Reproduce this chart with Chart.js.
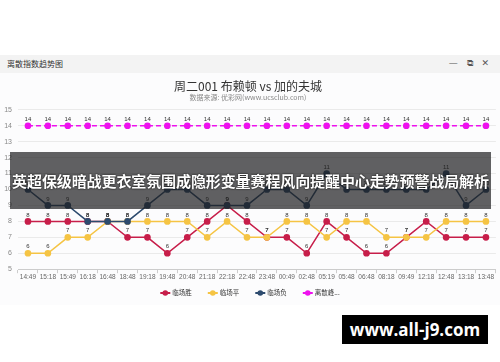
<!DOCTYPE html>
<html><head><meta charset="utf-8">
<script src="https://cdn.jsdelivr.net/npm/chart.js@4/dist/chart.umd.min.js"></script>
<style>
html,body{margin:0;padding:0;background:#fff;width:500px;height:362px;overflow:hidden;font-family:"Noto Sans CJK SC","Noto Sans",sans-serif;}
#hdr{position:absolute;left:0;top:55px;width:500px;height:18px;background:#f3f3f3;}
#hdr .t{position:absolute;left:7px;top:3px;font-size:8px;color:#333;line-height:12px;}
#hdr .ic{position:absolute;right:8px;top:2px;font-size:9px;color:#555;line-height:13px;letter-spacing:3px;font-family:"DejaVu Sans",sans-serif;}
#panel{position:absolute;left:0;top:73px;width:500px;height:232px;background:#fcfcfd;}
#c{position:absolute;left:0;top:73px;}
#ov{position:absolute;left:10px;top:152px;width:481px;height:57px;background:rgba(30,30,32,0.7);color:#fff;font-weight:bold;font-size:15px;line-height:57px;text-align:center;white-space:nowrap;letter-spacing:-0.1px;text-shadow:0 0 2px #000;}
#wm{position:absolute;left:342px;top:315px;width:146px;height:29px;background:#000;color:#fff;font-weight:bold;font-size:17px;line-height:29px;text-align:center;font-family:"Open Sans","Noto Sans",sans-serif;}
</style></head>
<body>
<div id="hdr"><span class="t">离散指数趋势图</span><span class="ic">— ⧉ ✕</span></div>
<div id="panel"></div>
<canvas id="c" width="500" height="232"></canvas>
<div id="ov">英超保级暗战更衣室氛围成隐形变量赛程风向提醒中心走势预警战局解析</div>
<div id="wm">www.all-j9.com</div>
<script>
const categories = ["14:49","15:18","15:49","16:18","16:48","18:48","19:18","19:48","20:48","21:18","22:18","22:48","23:48","00:49","02:48","05:19","05:48","06:48","08:18","09:49","12:18","12:48","13:18","13:48"];
const seriesNames = ["临场胜","临场平","临场负","离散峰..."];
const winValues  = [8,8,8,8,8,7,7,6,7,8,9,8,7,7,6,8,7,6,6,7,8,7,7,7];
const drawValues = [6,6,7,7,8,8,8,8,8,7,8,7,7,8,8,7,8,8,7,7,7,8,8,8];
const loseValues = [10,9,9,8,8,8,9,10,10,9,9,9,10,10,9,11,10,10,10,10,10,11,9,10];
const peakValues = [14,14,14,14,14,14,14,14,14,14,14,14,14,14,14,14,14,14,14,14,14,14,14,14];
const yTicks = [5,6,7,8,9,10,11,12,13,14,15];
const colors = ["#c71e4a","#f5c444","#2d4b6e","#ee11ee"];

const valueLabels = {
  id:'valueLabels',
  afterDatasetsDraw(chart){
    const ctx=chart.ctx; ctx.save();
    ctx.font='6px "Liberation Sans", sans-serif'; ctx.fillStyle='#333';
    ctx.textAlign='center'; ctx.textBaseline='middle';
    chart.data.datasets.forEach((ds,di)=>{
      const meta=chart.getDatasetMeta(di);
      meta.data.forEach((pt,i)=>{ ctx.fillText(String(ds.data[i]), pt.x, pt.y-6.5); });
    });
    ctx.restore();
  }
};

const bottomLegend = {
  id:'bottomLegend',
  afterDraw(chart){
    const ctx=chart.ctx; ctx.save();
    ctx.font='6.5px "Noto Sans CJK SC", sans-serif';
    ctx.textBaseline='middle'; ctx.textAlign='left';
    const iconW=10, gap=2, sep=16;
    const items=chart.data.datasets.map((ds,i)=>({t:ds.label,c:colors[i],w:iconW+gap+ctx.measureText(ds.label).width}));
    const total=items.reduce((a,b)=>a+b.w,0)+sep*(items.length-1);
    let x=chart.width/2-total/2; const y=chart.height-12;
    items.forEach(it=>{
      ctx.strokeStyle=it.c; ctx.fillStyle=it.c; ctx.lineWidth=2;
      ctx.beginPath(); ctx.moveTo(x,y); ctx.lineTo(x+iconW,y); ctx.stroke();
      ctx.beginPath(); ctx.arc(x+iconW/2,y,2.8,0,Math.PI*2); ctx.fill();
      ctx.fillStyle='#333'; ctx.fillText(it.t,x+iconW+gap,y);
      x+=it.w+sep;
    });
    ctx.restore();
  }
};

const mk=(i,data,order,dash)=>({label:seriesNames[i],data,borderColor:colors[i],backgroundColor:colors[i],
  pointBackgroundColor:colors[i],pointBorderColor:colors[i],pointRadius:2.6,pointHoverRadius:2.6,borderWidth:1.5,
  borderDash:dash||[],tension:0,order});

new Chart(document.getElementById('c'),{
  type:'line',
  data:{labels:categories,datasets:[mk(0,winValues,3),mk(1,drawValues,2),mk(2,loseValues,1),mk(3,peakValues,0,[5,3])]},
  options:{
    responsive:false,animation:false,devicePixelRatio:1,
    layout:{padding:{left:0,right:4,top:0,bottom:24}},
    plugins:{
      tooltip:{enabled:false},
      legend:{display:false},
      title:{display:true,text:'周二001 布赖顿 vs 加的夫城',color:'#333',font:{size:12,family:'"Noto Sans CJK SC",sans-serif',weight:'normal'},padding:{top:6,bottom:0}},
      subtitle:{display:true,text:'数据来源: 优彩网(www.ucsclub.com)',color:'#888',font:{size:7,family:'"Noto Sans CJK SC",sans-serif'},padding:{top:0,bottom:8}}
    },
    scales:{
      x:{type:'category',offset:true,
        grid:{offset:true,drawOnChartArea:false,tickLength:4,color:'#ccc'},
        border:{color:'#ccc'},
        ticks:{autoSkip:false,maxRotation:0,color:'#666',padding:0,font:{size:6.5,family:'"Liberation Sans",sans-serif'}}},
      y:{min:5,max:15,
        afterFit(s){s.width=18;},
        afterBuildTicks(s){s.ticks=yTicks.map(v=>({value:v}));},
        grid:{color:'#eaeaea',drawTicks:false},
        border:{display:false},
        ticks:{color:'#888',padding:6,font:{size:7,family:'"Liberation Sans",sans-serif'}}}
    }
  },
  plugins:[valueLabels,bottomLegend]
});
</script>
</body></html>
